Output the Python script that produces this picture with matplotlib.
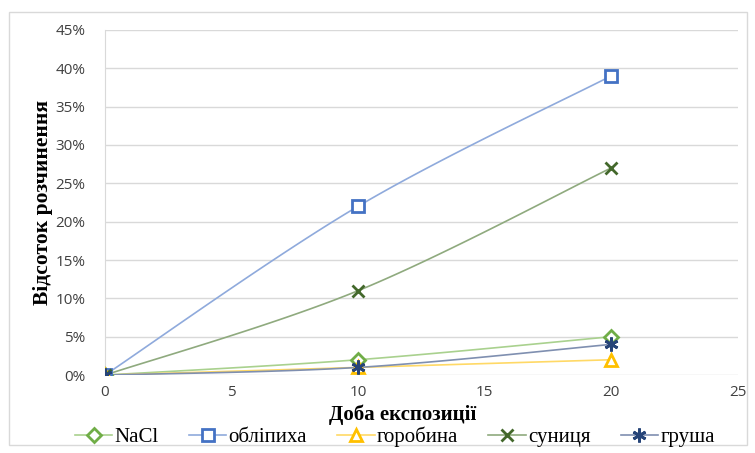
import matplotlib.pyplot as plt
import numpy as np
from matplotlib.ticker import FuncFormatter

days = [0, 10, 20]
nacl = [0.00, 0.02, 0.05]
oblipykha = [0.00, 0.22, 0.39]
horobyna = [0.00, 0.01, 0.02]
sunytsia = [0.00, 0.11, 0.27]
hrusha = [0.00, 0.01, 0.04]
series_names = ["NaCl", "обліпиха", "горобина", "суниця", "груша"]

series = [nacl, oblipykha, horobyna, sunytsia, hrusha]
line_colors = ["#A9D18E", "#8FAADC", "#FFD966", "#8FAA7E", "#7F8FB0"]
marker_colors = ["#70AD47", "#4472C4", "#FFC000", "#43682B", "#264478"]
markers = ["D", "s", "^", "x", (6, 2, 0)]
msizes = [7, 8.5, 8.5, 8.5, 10]
face = ["white", "white", "white", None, None]


def smooth(x, y, n=40):
    """Catmull-Rom style Bezier smoothing through the points."""
    x = np.asarray(x, float)
    y = np.asarray(y, float)
    px = np.concatenate([[x[0]], x, [x[-1]]])
    py = np.concatenate([[y[0]], y, [y[-1]]])
    xs, ys = [], []
    t = np.linspace(0, 1, n)
    for i in range(1, len(px) - 2):
        p0 = np.array([px[i], py[i]])
        p3 = np.array([px[i + 1], py[i + 1]])
        c1 = p0 + (np.array([px[i + 1], py[i + 1]]) - np.array([px[i - 1], py[i - 1]])) / 6
        c2 = p3 - (np.array([px[i + 2], py[i + 2]]) - np.array([px[i], py[i]])) / 6
        b = ((1 - t) ** 3)[:, None] * p0 + (3 * (1 - t) ** 2 * t)[:, None] * c1 \
            + (3 * (1 - t) * t ** 2)[:, None] * c2 + (t ** 3)[:, None] * p3
        xs.extend(b[:, 0])
        ys.extend(b[:, 1])
    return xs, ys


fig = plt.figure(figsize=(7.55, 4.53), dpi=100)
ax = fig.add_axes([0.139, 0.172, 0.838, 0.762])

for ys, name, lc, mc, m, ms, fc in zip(series, series_names, line_colors,
                                        marker_colors, markers, msizes, face):
    sx, sy = smooth(days, ys)
    ax.plot(sx, sy, color=lc, linewidth=1.2, zorder=2)
    kw = dict(marker=m, markersize=ms, markeredgecolor=mc, color=lc,
              linewidth=0, markeredgewidth=2.0, zorder=3)
    if fc is not None:
        kw["markerfacecolor"] = fc
    ax.plot(days, ys, **kw)
    # legend handle: line with marker
    ax.plot([], [], label=name, **{**kw, "linewidth": 1.2})

ax.set_xlim(0, 25)
ax.set_ylim(0, 0.45)
ax.set_xticks(np.arange(0, 26, 5))
ax.set_yticks(np.arange(0, 0.451, 0.05))
ax.yaxis.set_major_formatter(FuncFormatter(lambda v, p: f"{round(v*100)}%"))
ax.grid(axis="y", color="#D9D9D9", linewidth=1)
ax.set_axisbelow(True)
for s in ["top", "right", "bottom"]:
    ax.spines[s].set_visible(False)
ax.spines["left"].set_color("#D9D9D9")
ax.tick_params(axis="y", length=0, labelsize=11, labelcolor="#404040", pad=14)
ax.tick_params(axis="x", length=0, labelsize=11, labelcolor="#404040", pad=7)
for lbl in ax.get_xticklabels() + ax.get_yticklabels():
    lbl.set_fontfamily("Open Sans")

ax.set_xlabel("Доба експозиції", fontfamily="Liberation Serif",
              fontweight="bold", fontsize=15)
ax.xaxis.set_label_coords(0.471, -0.085)
ax.set_ylabel("Відсоток розчинення", fontfamily="Liberation Serif",
              fontweight="bold", fontsize=15.5)
ax.yaxis.set_label_coords(-0.082, 0.5)

leg = fig.legend(loc="center", bbox_to_anchor=(0.523, 0.035), ncol=5,
                 frameon=False, prop={"family": "Liberation Serif", "size": 15},
                 handlelength=1.8, columnspacing=1.45, handletextpad=0.1)

fig.patches.append(plt.Rectangle((0.012, 0.018), 0.978, 0.955,
                                 transform=fig.transFigure, fill=False,
                                 edgecolor="#D9D9D9", linewidth=1))

fig.savefig("out.png", dpi=100)
